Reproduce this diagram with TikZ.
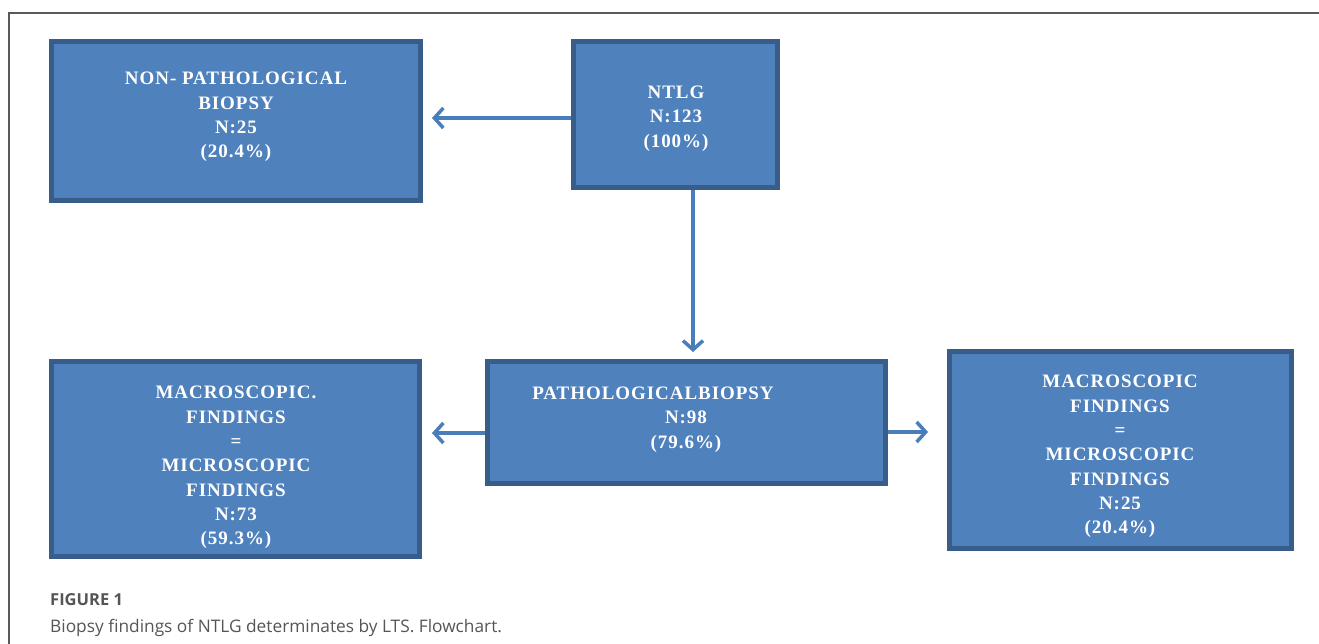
\documentclass[tikz,border=0pt]{standalone}
\usepackage{fontspec}
\usetikzlibrary{arrows.meta}
\newfontfamily\boxfont{Liberation Serif}[LetterSpace=5]
\newfontfamily\capfont{Open Sans}
\definecolor{boxfill}{HTML}{4F81BD}
\definecolor{boxline}{HTML}{385D8A}
\definecolor{arrowcol}{RGB}{74,126,187}
\definecolor{framecol}{RGB}{90,90,90}
\definecolor{capcol}{RGB}{85,85,85}
\tikzset{
  flowbox/.style={draw=boxline, fill=boxfill, line width=5pt, inner sep=0pt},
  boxtext/.style={text=white, align=center, inner sep=0pt,
    font=\boxfont\bfseries\fontsize{19}{24.3}\selectfont},
  flowarrow/.style={draw=arrowcol, line width=4pt,
    -{Straight Barb[length=9pt,width=20pt,line width=3.5pt]}},
  captext/.style={text=capcol, inner sep=0pt, anchor=base west}
}
\begin{document}
\begin{tikzpicture}[x=1pt,y=-1pt]
\useasboundingbox (0,0) rectangle (1319,644);
\draw[framecol, line width=1.5pt] (9,644) -- (9,13) -- (1319,13);

\node[flowbox, minimum width=369pt, minimum height=159pt] (np) at (236,121) {};
\node[flowbox, minimum width=204pt, minimum height=146pt] (ntlg) at (675.5,114.5) {};
\node[flowbox, minimum width=398pt, minimum height=122pt] (pb) at (686.5,422.5) {};
\node[flowbox, minimum width=368pt, minimum height=195pt] (lb) at (235.5,459) {};
\node[flowbox, minimum width=342pt, minimum height=197pt] (rb) at (1120.5,450) {};

\node[boxtext] (npt) at (236,117) {NON- PATHOLOGICAL\\BIOPSY\\N:25\\(20.4\%)};
\node[boxtext] (ntlgt) at (676,118.5) {NTLG\\N:123\\(100\%)};
\node[boxtext] (pbt) at (686,419.5) {\hspace*{-66pt}PATHOLOGICALBIOPSY\\N:98\\(79.6\%)};
\node[boxtext] (lbt) at (236,467.5) {MACROSCOPIC.\\FINDINGS\\=\\MICROSCOPIC\\FINDINGS\\N:73\\(59.3\%)};
\node[boxtext] (rbt) at (1120,456.5) {MACROSCOPIC\\FINDINGS\\=\\MICROSCOPIC\\FINDINGS\\N:25\\(20.4\%)};

\draw[flowarrow, shorten >=9pt] ([yshift=-3.5pt]ntlg.west) -- ([yshift=-3.5pt]ntlg.west -| np.east);
\draw[flowarrow, shorten >=7pt] ([xshift=17.5pt]ntlg.south) -- ([xshift=17.5pt]ntlg.south |- pb.north);
\draw[flowarrow, shorten >=10pt] ([yshift=-10.5pt]pb.west) -- ([yshift=-10.5pt]pb.west -| lb.east);
\draw[flowarrow, shorten >=19pt] ([yshift=-9.5pt]pb.east) -- ([yshift=-9.5pt]pb.east -| rb.west);

\node[captext, font=\capfont\bfseries\fontsize{16.5}{18}\selectfont] (fig) at (50,605) {FIGURE 1};
\node[captext, font=\capfont\fontsize{17.3}{19}\selectfont] (cap) at (50,632) {Biopsy findings of NTLG determinates by LTS. Flowchart.};
\end{tikzpicture}
\end{document}
